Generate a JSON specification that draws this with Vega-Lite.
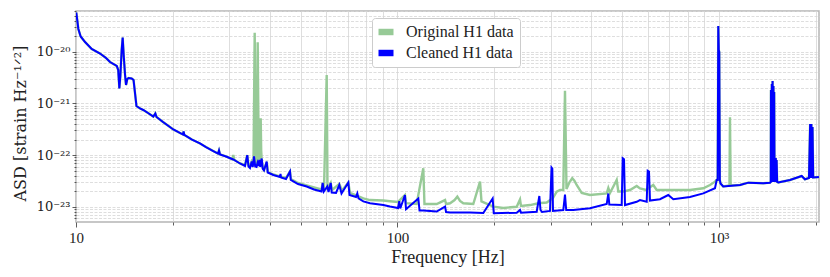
{
  "$schema": "https://vega.github.io/schema/vega-lite/v6.json",
  "width": 743,
  "height": 211,
  "autosize": {"type": "none"},
  "padding": {"left": 76, "top": 11, "right": 11, "bottom": 55},
  "background": "white",
  "config": {
    "font": "Liberation Serif, Times New Roman, DejaVu Serif, serif",
    "view": {"stroke": "#b5b5b5", "strokeWidth": 1.5}
  },
  "datasets": {
    "cleaned": [
      {"f":10.02,"asd":5.73e-20},{"f":10.09,"asd":4.10e-20},{"f":10.17,"asd":2.75e-20},{"f":10.34,"asd":1.97e-20},{"f":10.67,"asd":1.54e-20},{"f":11.19,"asd":1.13e-20},{"f":11.88,"asd":9.23e-21},{"f":12.40,"asd":7.55e-21},{"f":12.76,"asd":6.32e-21},{"f":13.39,"asd":5.29e-21},{"f":13.53,"asd":4.43e-21},{"f":13.64,"asd":1.94e-21},{"f":13.74,"asd":3.39e-21},{"f":13.87,"asd":1.08e-20},{"f":13.97,"asd":1.88e-20},{"f":14.07,"asd":8.63e-21},{"f":14.21,"asd":3.54e-21},{"f":14.31,"asd":2.27e-21},{"f":14.44,"asd":2.96e-21},{"f":14.57,"asd":3.10e-21},{"f":14.90,"asd":3.03e-21},{"f":15.10,"asd":2.84e-21},{"f":15.42,"asd":8.91e-22},{"f":15.82,"asd":7.97e-22},{"f":16.19,"asd":7.46e-22},{"f":16.75,"asd":6.52e-22},{"f":17.40,"asd":5.58e-22},{"f":17.65,"asd":6.38e-22},{"f":17.80,"asd":5.46e-22},{"f":18.65,"asd":4.37e-22},{"f":20.08,"asd":3.13e-22},{"f":20.76,"asd":2.80e-22},{"f":21.52,"asd":2.50e-22},{"f":21.61,"asd":2.86e-22},{"f":21.72,"asd":2.45e-22},{"f":22.95,"asd":2.00e-22},{"f":24.30,"asd":1.68e-22},{"f":25.37,"asd":1.43e-22},{"f":26.73,"asd":1.20e-22},{"f":27.65,"asd":1.07e-22},{"f":27.85,"asd":1.23e-22},{"f":28.05,"asd":1.03e-22},{"f":29.28,"asd":9.40e-23},{"f":30.85,"asd":8.22e-23},{"f":32.37,"asd":6.88e-23},{"f":33.55,"asd":6.16e-23},{"f":34.10,"asd":1.00e-22},{"f":34.40,"asd":6.02e-23},{"f":34.77,"asd":5.63e-23},{"f":35.20,"asd":7.52e-23},{"f":35.47,"asd":5.89e-23},{"f":35.78,"asd":9.40e-23},{"f":36.09,"asd":6.02e-23},{"f":36.43,"asd":5.89e-23},{"f":36.69,"asd":7.03e-23},{"f":36.90,"asd":6.16e-23},{"f":37.17,"asd":8.04e-23},{"f":37.43,"asd":5.89e-23},{"f":37.81,"asd":8.60e-23},{"f":38.11,"asd":5.39e-23},{"f":38.44,"asd":5.04e-23},{"f":39.19,"asd":7.52e-23},{"f":39.47,"asd":4.61e-23},{"f":40.13,"asd":4.41e-23},{"f":41.09,"asd":4.12e-23},{"f":43.11,"asd":3.77e-23},{"f":43.26,"asd":4.31e-23},{"f":43.42,"asd":3.69e-23},{"f":45.00,"asd":3.45e-23},{"f":46.31,"asd":4.82e-23},{"f":46.57,"asd":3.30e-23},{"f":49.04,"asd":2.76e-23},{"f":52.19,"asd":2.47e-23},{"f":55.00,"asd":2.16e-23},{"f":58.03,"asd":1.98e-23},{"f":58.53,"asd":2.89e-23},{"f":58.99,"asd":1.98e-23},{"f":60.49,"asd":2.47e-23},{"f":61.02,"asd":1.93e-23},{"f":61.99,"asd":2.89e-23},{"f":62.43,"asd":1.89e-23},{"f":64.39,"asd":1.85e-23},{"f":65.92,"asd":2.64e-23},{"f":66.97,"asd":1.81e-23},{"f":70.31,"asd":2.95e-23},{"f":70.92,"asd":1.69e-23},{"f":74.30,"asd":1.55e-23},{"f":75.00,"asd":1.81e-23},{"f":75.64,"asd":1.45e-23},{"f":78.29,"asd":1.27e-23},{"f":82.13,"asd":1.17e-23},{"f":90.34,"asd":1.08e-23},{"f":94.77,"asd":1.01e-23},{"f":100.4,"asd":9.48e-24},{"f":101.3,"asd":1.29e-23},{"f":102.0,"asd":9.27e-24},{"f":105.5,"asd":1.69e-23},{"f":106.3,"asd":8.95e-24},{"f":116.1,"asd":1.45e-23},{"f":117.1,"asd":8.48e-24},{"f":120.3,"asd":8.48e-24},{"f":132.4,"asd":8.11e-24},{"f":140.6,"asd":1.01e-23},{"f":141.6,"asd":7.93e-24},{"f":145.7,"asd":7.76e-24},{"f":168.1,"asd":7.76e-24},{"f":184.9,"asd":7.59e-24},{"f":197.7,"asd":1.45e-23},{"f":199.3,"asd":7.52e-24},{"f":234.9,"asd":7.69e-24},{"f":240.5,"asd":8.67e-24},{"f":242.2,"asd":7.69e-24},{"f":271.0,"asd":8.04e-24},{"f":276.2,"asd":1.62e-23},{"f":278.5,"asd":8.67e-24},{"f":281.5,"asd":7.93e-24},{"f":298.1,"asd":8.30e-24},{"f":301.4,"asd":5.76e-23},{"f":303.1,"asd":5.51e-23},{"f":304.6,"asd":8.30e-24},{"f":327.9,"asd":8.67e-24},{"f":331.9,"asd":1.73e-23},{"f":334.8,"asd":8.67e-24},{"f":352.3,"asd":8.67e-24},{"f":397.0,"asd":9.35e-24},{"f":447.5,"asd":1.13e-23},{"f":452.7,"asd":1.81e-23},{"f":455.9,"asd":1.11e-23},{"f":498.2,"asd":1.08e-23},{"f":501.8,"asd":8.67e-23},{"f":506.5,"asd":8.30e-23},{"f":510.1,"asd":1.08e-23},{"f":554.7,"asd":1.25e-23},{"f":567.9,"asd":1.35e-23},{"f":595.9,"asd":1.25e-23},{"f":600.2,"asd":4.99e-23},{"f":605.8,"asd":4.82e-23},{"f":610.1,"asd":1.32e-23},{"f":655.4,"asd":1.40e-23},{"f":695.5,"asd":1.69e-23},{"f":720.9,"asd":1.40e-23},{"f":812.4,"asd":1.55e-23},{"f":893.8,"asd":1.82e-23},{"f":971.8,"asd":2.28e-23},{"f":983.7,"asd":3.30e-23},{"f":990.7,"asd":3.30e-23},{"f":995.0,"asd":3.14e-20},{"f":998.6,"asd":1.08e-20},{"f":1002,"asd":9.87e-21},{"f":1006,"asd":3.30e-23},{"f":1011,"asd":2.82e-23},{"f":1031,"asd":2.47e-23},{"f":1163,"asd":2.64e-23},{"f":1234,"asd":2.93e-23},{"f":1373,"asd":2.85e-23},{"f":1441,"asd":2.93e-23},{"f":1449,"asd":3.02e-23},{"f":1451,"asd":1.82e-21},{"f":1456,"asd":3.02e-23},{"f":1460,"asd":2.37e-21},{"f":1464,"asd":3.02e-23},{"f":1468,"asd":2.71e-21},{"f":1472,"asd":3.02e-23},{"f":1477,"asd":2.17e-21},{"f":1481,"asd":3.02e-23},{"f":1485,"asd":1.66e-21},{"f":1489,"asd":3.02e-23},{"f":1494,"asd":8.79e-23},{"f":1498,"asd":3.02e-23},{"f":1502,"asd":8.79e-23},{"f":1507,"asd":3.02e-23},{"f":1511,"asd":8.04e-23},{"f":1517,"asd":3.02e-23},{"f":1529,"asd":2.95e-23},{"f":1663,"asd":3.30e-23},{"f":1808,"asd":3.94e-23},{"f":1851,"asd":3.40e-23},{"f":1905,"asd":3.61e-23},{"f":1921,"asd":4.00e-22},{"f":1930,"asd":3.61e-23},{"f":1938,"asd":4.00e-22},{"f":1946,"asd":3.61e-23},{"f":1954,"asd":3.49e-22},{"f":1964,"asd":3.69e-23},{"f":2046,"asd":3.77e-23}
    ],
    "original": [
      {"f":10.02,"asd":5.73e-20},{"f":10.09,"asd":4.10e-20},{"f":10.17,"asd":2.75e-20},{"f":10.34,"asd":1.97e-20},{"f":10.67,"asd":1.54e-20},{"f":11.19,"asd":1.13e-20},{"f":11.88,"asd":9.23e-21},{"f":12.40,"asd":7.55e-21},{"f":12.76,"asd":6.32e-21},{"f":13.39,"asd":5.29e-21},{"f":13.53,"asd":4.43e-21},{"f":13.64,"asd":1.94e-21},{"f":13.74,"asd":3.39e-21},{"f":13.87,"asd":1.08e-20},{"f":13.97,"asd":1.88e-20},{"f":14.07,"asd":8.63e-21},{"f":14.21,"asd":3.54e-21},{"f":14.31,"asd":2.27e-21},{"f":14.44,"asd":2.96e-21},{"f":14.57,"asd":3.10e-21},{"f":14.90,"asd":3.03e-21},{"f":15.10,"asd":2.84e-21},{"f":15.42,"asd":8.91e-22},{"f":15.82,"asd":7.97e-22},{"f":16.19,"asd":7.46e-22},{"f":16.75,"asd":6.52e-22},{"f":17.40,"asd":5.58e-22},{"f":17.65,"asd":6.38e-22},{"f":17.80,"asd":5.46e-22},{"f":18.65,"asd":4.37e-22},{"f":20.08,"asd":3.13e-22},{"f":20.76,"asd":2.80e-22},{"f":21.52,"asd":2.50e-22},{"f":21.61,"asd":2.86e-22},{"f":21.72,"asd":2.45e-22},{"f":22.95,"asd":2.00e-22},{"f":24.30,"asd":1.68e-22},{"f":25.37,"asd":1.43e-22},{"f":26.73,"asd":1.20e-22},{"f":27.65,"asd":1.07e-22},{"f":27.85,"asd":1.23e-22},{"f":28.05,"asd":1.03e-22},{"f":29.28,"asd":9.40e-23},{"f":30.67,"asd":8.30e-23},{"f":30.85,"asd":1.00e-22},{"f":31.05,"asd":8.11e-23},{"f":32.37,"asd":6.88e-23},{"f":33.55,"asd":6.44e-23},{"f":34.10,"asd":1.00e-22},{"f":34.40,"asd":6.44e-23},{"f":34.77,"asd":6.16e-23},{"f":35.20,"asd":7.52e-23},{"f":35.65,"asd":6.44e-23},{"f":35.96,"asd":2.33e-20},{"f":36.24,"asd":6.44e-23},{"f":36.35,"asd":7.46e-22},{"f":36.53,"asd":6.44e-23},{"f":36.74,"asd":1.52e-20},{"f":37.03,"asd":6.44e-23},{"f":37.22,"asd":3.82e-22},{"f":37.38,"asd":6.44e-23},{"f":37.54,"asd":5.15e-22},{"f":37.67,"asd":1.25e-22},{"f":37.81,"asd":8.04e-23},{"f":38.11,"asd":5.63e-23},{"f":38.44,"asd":5.15e-23},{"f":39.19,"asd":7.35e-23},{"f":39.55,"asd":4.71e-23},{"f":41.09,"asd":4.22e-23},{"f":43.11,"asd":3.86e-23},{"f":45.00,"asd":3.61e-23},{"f":46.31,"asd":4.82e-23},{"f":46.64,"asd":3.45e-23},{"f":49.04,"asd":2.89e-23},{"f":52.19,"asd":2.58e-23},{"f":55.00,"asd":2.36e-23},{"f":58.03,"asd":2.16e-23},{"f":58.53,"asd":2.89e-23},{"f":59.08,"asd":2.16e-23},{"f":60.23,"asd":3.54e-21},{"f":60.58,"asd":2.16e-23},{"f":61.99,"asd":2.89e-23},{"f":62.57,"asd":2.11e-23},{"f":65.92,"asd":2.76e-23},{"f":67.21,"asd":2.07e-23},{"f":70.31,"asd":2.95e-23},{"f":71.18,"asd":1.85e-23},{"f":74.68,"asd":1.65e-23},{"f":78.29,"asd":1.45e-23},{"f":82.13,"asd":1.35e-23},{"f":90.34,"asd":1.32e-23},{"f":94.77,"asd":1.28e-23},{"f":100.4,"asd":1.24e-23},{"f":105.5,"asd":1.69e-23},{"f":106.3,"asd":1.18e-23},{"f":114.7,"asd":1.14e-23},{"f":120.3,"asd":5.56e-23},{"f":121.3,"asd":1.13e-23},{"f":132.4,"asd":1.13e-23},{"f":140.6,"asd":1.35e-23},{"f":141.6,"asd":1.13e-23},{"f":145.7,"asd":1.17e-23},{"f":150.5,"asd":1.35e-23},{"f":153.5,"asd":1.57e-23},{"f":156.5,"asd":1.30e-23},{"f":160.2,"asd":1.17e-23},{"f":172.1,"asd":1.13e-23},{"f":180.6,"asd":3.06e-23},{"f":182.5,"asd":1.27e-23},{"f":198.6,"asd":1.01e-23},{"f":213.3,"asd":9.48e-24},{"f":234.9,"asd":1.00e-23},{"f":240.5,"asd":1.39e-23},{"f":242.2,"asd":1.04e-23},{"f":258.4,"asd":1.08e-23},{"f":274.2,"asd":1.17e-23},{"f":291.2,"asd":1.21e-23},{"f":304.6,"asd":1.48e-23},{"f":312.8,"asd":1.96e-23},{"f":320.3,"asd":2.11e-23},{"f":327.9,"asd":2.11e-23},{"f":331.9,"asd":1.76e-21},{"f":335.5,"asd":2.21e-23},{"f":343.0,"asd":3.00e-23},{"f":349.7,"asd":3.56e-23},{"f":355.0,"asd":3.20e-23},{"f":360.9,"asd":2.64e-23},{"f":374.1,"asd":1.85e-23},{"f":397.0,"asd":1.69e-23},{"f":447.5,"asd":1.82e-23},{"f":452.7,"asd":2.31e-23},{"f":458.2,"asd":1.85e-23},{"f":480.7,"asd":3.30e-23},{"f":486.2,"asd":1.98e-23},{"f":503.9,"asd":1.98e-23},{"f":528.7,"asd":2.11e-23},{"f":554.7,"asd":2.53e-23},{"f":567.9,"asd":2.26e-23},{"f":592.9,"asd":2.11e-23},{"f":624.7,"asd":2.64e-23},{"f":640.1,"asd":2.11e-23},{"f":720.9,"asd":2.11e-23},{"f":812.4,"asd":2.11e-23},{"f":893.8,"asd":2.28e-23},{"f":937.6,"asd":2.64e-23},{"f":971.8,"asd":3.06e-23},{"f":983.7,"asd":3.30e-23},{"f":990.7,"asd":3.30e-23},{"f":995.0,"asd":3.14e-20},{"f":998.6,"asd":1.08e-20},{"f":1002,"asd":9.87e-21},{"f":1006,"asd":3.30e-23},{"f":1011,"asd":2.82e-23},{"f":1031,"asd":2.47e-23},{"f":1078,"asd":2.58e-23},{"f":1082,"asd":5.38e-22},{"f":1087,"asd":2.58e-23},{"f":1163,"asd":2.64e-23},{"f":1234,"asd":2.93e-23},{"f":1373,"asd":2.85e-23},{"f":1441,"asd":2.93e-23},{"f":1449,"asd":3.02e-23},{"f":1451,"asd":1.82e-21},{"f":1456,"asd":3.02e-23},{"f":1460,"asd":2.37e-21},{"f":1464,"asd":3.02e-23},{"f":1468,"asd":2.71e-21},{"f":1472,"asd":3.02e-23},{"f":1477,"asd":2.17e-21},{"f":1481,"asd":3.02e-23},{"f":1485,"asd":1.66e-21},{"f":1489,"asd":3.02e-23},{"f":1494,"asd":8.79e-23},{"f":1498,"asd":3.02e-23},{"f":1502,"asd":8.79e-23},{"f":1507,"asd":3.02e-23},{"f":1511,"asd":8.04e-23},{"f":1517,"asd":3.02e-23},{"f":1529,"asd":2.95e-23},{"f":1663,"asd":3.30e-23},{"f":1808,"asd":3.94e-23},{"f":1851,"asd":3.40e-23},{"f":1905,"asd":3.61e-23},{"f":1921,"asd":4.00e-22},{"f":1930,"asd":3.61e-23},{"f":1938,"asd":4.00e-22},{"f":1946,"asd":3.61e-23},{"f":1954,"asd":3.49e-22},{"f":1964,"asd":3.69e-23},{"f":2046,"asd":3.77e-23}
    ]
  },
  "encoding": {
    "x": {
      "field": "f",
      "type": "quantitative",
      "scale": {"type": "log", "domain": [10, 2047], "nice": false},
      "axis": {
        "values": [10,20,30,40,50,60,70,80,90,100,200,300,400,500,600,700,800,900,1000,2000],
        "labelExpr": "datum.value == 10 ? '10' : datum.value == 100 ? '100' : datum.value == 1000 ? '10³' : ''",
        "grid": true,
        "gridColor": "#d6d6d6",
        "gridWidth": 0.8,
        "domain": false,
        "tickColor": "#333333",
        "tickWidth": 0.8,
        "tickSize": {"condition": {"test": "abs(log(datum.value)/LN10 - round(log(datum.value)/LN10)) < 0.001", "value": 5}, "value": 3},
        "labelFont": "Liberation Serif, Times New Roman, DejaVu Serif, serif",
        "labelFontSize": 15,
        "labelColor": "#222222",
        "labelPadding": 3,
        "labelOverlap": false,
        "labelFlush": false,
        "labelBound": false,
        "title": "Frequency [Hz]",
        "titleFont": "Liberation Serif, Times New Roman, DejaVu Serif, serif",
        "titleFontSize": 18,
        "titleFontWeight": "normal",
        "titleColor": "#222222",
        "titleBaseline": "alphabetic",
        "titleY": 40
      }
    },
    "y": {
      "field": "asd",
      "type": "quantitative",
      "scale": {"type": "log", "domain": [5.08e-24, 6.13e-20], "nice": false},
      "axis": {
        "values": [6e-24,7e-24,8e-24,9e-24,1e-23,2e-23,3e-23,4e-23,5e-23,6e-23,7e-23,8e-23,9e-23,1e-22,2e-22,3e-22,4e-22,5e-22,6e-22,7e-22,8e-22,9e-22,1e-21,2e-21,3e-21,4e-21,5e-21,6e-21,7e-21,8e-21,9e-21,1e-20,2e-20,3e-20,4e-20,5e-20,6e-20],
        "labelExpr": "abs(log(datum.value)/LN10 - round(log(datum.value)/LN10)) > 0.001 ? '' : round(log(datum.value)/LN10) == -20 ? '10⁻²⁰' : round(log(datum.value)/LN10) == -21 ? '10⁻²¹' : round(log(datum.value)/LN10) == -22 ? '10⁻²²' : '10⁻²³'",
        "grid": true,
        "gridColor": "#d6d6d6",
        "gridWidth": 0.8,
        "gridDash": [3, 1.5],
        "domain": false,
        "tickColor": "#333333",
        "tickWidth": 0.8,
        "tickSize": {"condition": {"test": "abs(log(datum.value)/LN10 - round(log(datum.value)/LN10)) < 0.001", "value": 4}, "value": 2},
        "labelFont": "DejaVu Serif, serif",
        "labelFontSize": 13,
        "labelColor": "#222222",
        "labelPadding": 2,
        "labelOverlap": false,
        "labelFlush": false,
        "labelBound": false,
        "title": "ASD [strain Hz⁻¹ᐟ²]",
        "titleFont": "DejaVu Serif, serif",
        "titleFontSize": 16,
        "titleFontWeight": "normal",
        "titleColor": "#222222",
        "titleAngle": 270,
        "titleAlign": "center",
        "titleBaseline": "middle",
        "titleX": -56,
        "titleY": 112
      }
    },
    "color": {
      "scale": {"domain": ["Original H1 data", "Cleaned H1 data"], "range": ["#97ca97", "#0000ff"]},
      "legend": {
        "orient": "none",
        "legendX": 296,
        "legendY": 7,
        "title": null,
        "direction": "vertical",
        "fillColor": "white",
        "strokeColor": "#cccccc",
        "cornerRadius": 3,
        "padding": 6,
        "symbolType": "M-1,-0.43H1V0.43H-1Z",
        "symbolSize": 225,
        "symbolStrokeWidth": 0,
        "labelFont": "Liberation Serif, Times New Roman, DejaVu Serif, serif",
        "labelFontSize": 16,
        "labelColor": "#222222",
        "labelOffset": 12,
        "labelLimit": 300,
        "rowPadding": 5,
        "encode": {
          "symbols": {"update": {"fill": {"scale": "color", "field": "value"}, "fillOpacity": {"value": 1}, "strokeWidth": {"value": 0}}}
        }
      }
    }
  },
  "layer": [
    {
      "data": {"name": "original"},
      "mark": {"type": "line", "strokeWidth": 2.4, "clip": true},
      "encoding": {"color": {"datum": "Original H1 data"}}
    },
    {
      "data": {"name": "cleaned"},
      "mark": {"type": "line", "strokeWidth": 2, "clip": true},
      "encoding": {"color": {"datum": "Cleaned H1 data"}}
    }
  ]
}
